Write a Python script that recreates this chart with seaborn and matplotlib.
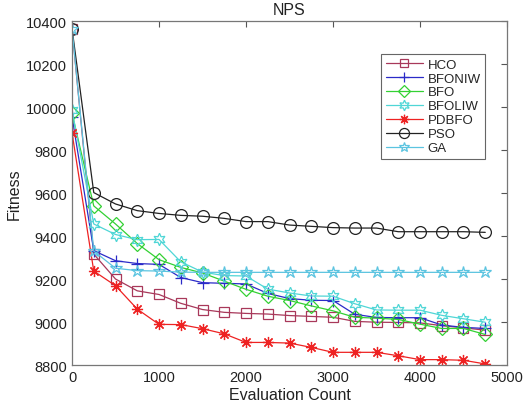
import pandas as pd
import matplotlib
matplotlib.use("Agg")
import matplotlib.pyplot as plt
import seaborn as sns

# evaluation counts where the algorithms were sampled
evals = [0, 250, 500, 750, 1000, 1250, 1500, 1750, 2000, 2250,
         2500, 2750, 3000, 3250, 3500, 3750, 4000, 4250, 4500, 4750]

hco = [10365, 9316, 9200, 9145, 9128, 9087, 9058, 9045, 9040, 9037,
       9030, 9026, 9022, 9003, 8999, 8998, 8996, 8983, 8973, 8962]
bfoniw = [9955, 9332, 9285, 9272, 9268, 9207, 9183, 9180, 9177, 9133,
          9109, 9101, 9100, 9036, 9021, 9020, 9020, 8986, 8975, 8970]
bfo = [9970, 9540, 9456, 9365, 9290, 9254, 9228, 9190, 9152, 9120,
       9100, 9075, 9052, 9022, 9018, 9012, 8990, 8970, 8970, 8942]
bfoliw = [9985, 9456, 9407, 9383, 9384, 9280, 9232, 9216, 9214, 9153,
          9135, 9121, 9120, 9085, 9056, 9055, 9055, 9031, 9015, 8999]
pdbfo = [9880, 9237, 9169, 9060, 8989, 8988, 8969, 8945, 8905, 8905,
         8902, 8882, 8859, 8859, 8859, 8843, 8825, 8825, 8822, 8805]
pso = [10365, 9602, 9549, 9518, 9505, 9496, 9492, 9482, 9467, 9467,
       9451, 9445, 9439, 9437, 9437, 9420, 9420, 9420, 9420, 9417]
ga = [10365, 9330, 9250, 9239, 9237, 9232, 9231, 9231, 9231, 9231,
      9231, 9231, 9231, 9231, 9231, 9231, 9231, 9231, 9231, 9231]

names = ["HCO", "BFONIW", "BFO", "BFOLIW", "PDBFO", "PSO", "GA"]
series = [hco, bfoniw, bfo, bfoliw, pdbfo, pso, ga]

# matlab-like look: colour, marker, marker size
styles = {
    "HCO": ("#a8385a", "s", 6.5),
    "BFONIW": ("#2b2bc8", "+", 9),
    "BFO": ("#33d133", "D", 7),
    "BFOLIW": ("#4fd6d6", (6, 1, 0), 9),
    "PDBFO": ("#ee2222", (8, 2, 0), 8),
    "PSO": ("#222222", "o", 8.5),
    "GA": ("#5bc4e0", "*", 9),
}

df = pd.DataFrame({"evals": evals})
for n, s in zip(names, series):
    df[n] = s

sns.set_style("white")
plt.rcParams["font.family"] = ["Liberation Sans", "DejaVu Sans"]

fig = plt.figure(figsize=(5.23, 4.10), dpi=100)
ax = fig.add_axes([0.1377, 0.1073, 0.8317, 0.839])

for n in names:
    col, mk, ms = styles[n]
    sns.lineplot(data=df, x="evals", y=n, ax=ax, color=col, label=n,
                 marker=mk, markersize=ms, markerfacecolor="none",
                 markeredgecolor=col, markeredgewidth=0.9, linewidth=0.9)

ax.set_xlim(0, 5000)
ax.set_ylim(8800, 10400)
ax.set_xticks([0, 1000, 2000, 3000, 4000, 5000])
ax.set_yticks([8800, 9000, 9200, 9400, 9600, 9800, 10000, 10200, 10400])
ax.tick_params(direction="in", top=True, right=True, length=4,
               width=0.8, colors="#555555", labelcolor="#222222",
               labelsize=10.5)
for sp in ax.spines.values():
    sp.set_color("#777777")
    sp.set_linewidth(0.9)

ax.set_title("NPS", fontsize=11.5, color="#222222", pad=5)
ax.set_xlabel("Evaluation Count", fontsize=11.5, color="#222222", labelpad=2)
ax.set_ylabel("Fitness", fontsize=11.5, color="#222222", labelpad=3)

leg = ax.legend(loc="upper right", bbox_to_anchor=(0.95, 0.905),
                fontsize=9.5, frameon=True, fancybox=False, framealpha=1,
                edgecolor="#666666", handlelength=2.8, labelspacing=0.13,
                borderpad=0.35, handletextpad=0.35, borderaxespad=0,
                markerscale=0.85)
leg.get_frame().set_linewidth(0.8)

fig.savefig("out.png", dpi=100)
